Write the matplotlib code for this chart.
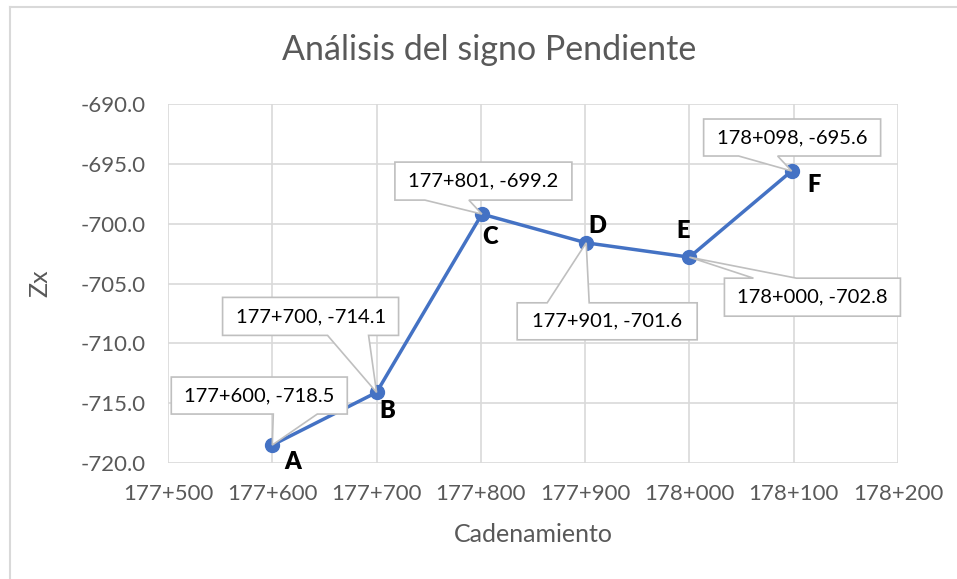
import matplotlib
matplotlib.use("Agg")
import matplotlib.pyplot as plt
import matplotlib.transforms as mtransforms
from matplotlib.patches import Polygon
from matplotlib.lines import Line2D

plt.rcParams['font.family'] = ['Lato', 'DejaVu Sans']

# estaciones (m) y cotas
cad = [177600, 177700, 177801, 177901, 178000, 178098]
zx = [-718.5, -714.1, -699.2, -701.6, -702.8, -695.6]
puntos = ['A', 'B', 'C', 'D', 'E', 'F']
x_ticks = [177500, 177600, 177700, 177800, 177900, 178000, 178100, 178200]
y_ticks = [-720, -715, -710, -705, -700, -695, -690]

# callouts, pixel offsets from each point (y up): box x0, x1, y0, y1, notch a, b, edge
cajas = [
    (-101, 75, 31, 68, 1, 45, 'bottom'),
    (-154, 22, 57, 95, -49, -8, 'bottom'),
    (-87, 90, 14, 52, -57, -13, 'bottom'),
    (-69, 111, -97, -60, -39, 3, 'top'),
    (35, 211, -59, -21, 64, 107, 'top'),
    (-88, 89, 15, 52, -53, -14, 'bottom'),
]
# letter offsets in pixels (y up)
letras_off = [(20, -17), (11, -19), (8, -23), (11, 17), (-6, 26), (22, -14)]


def fmt_cad(v):
    return f"{int(v // 1000)}+{int(round(v % 1000)):03d}"


fig = plt.figure(figsize=(9.57, 5.79), dpi=100)
ax = fig.add_axes([168 / 957, 1 - 463 / 579, 730 / 957, 359 / 579])

ax.plot(cad, zx, color='#4472C4', lw=2.5, marker='o', ms=10, zorder=3)

ax.set_xlim(177500, 178200)
ax.set_ylim(-720, -690)
ax.set_xticks(x_ticks)
ax.set_xticklabels([fmt_cad(v) for v in x_ticks])
ax.set_yticks(y_ticks)
ax.set_yticklabels([f"{v:.1f}" for v in y_ticks])
ax.tick_params(length=0, labelsize=16, labelcolor='#595959')
ax.tick_params(axis='y', pad=16)
ax.tick_params(axis='x', pad=15)
ax.grid(True, color='#d9d9d9', lw=1.2)
for s in ax.spines.values():
    s.set_visible(False)
ax.set_axisbelow(True)

ax.set_xlabel('Cadenamiento', fontsize=18, color='#595959', va='center')
ax.set_ylabel('Zx', fontsize=18, color='#595959', va='center')
ax.xaxis.set_label_coords(0.5, (463 - 535) / 359)
ax.yaxis.set_label_coords((40 - 168) / 730, 0.5)
fig.text(489 / 957, 1 - 50 / 579, 'Análisis del signo Pendiente', ha='center',
         va='center', fontsize=24.5, color='#595959')

for x, y, p, caja, lo in zip(cad, zx, puntos, cajas, letras_off):
    tr = mtransforms.Affine2D() + mtransforms.ScaledTranslation(x, y, ax.transData)
    x0, x1, y0, y1, a, b, edge = caja
    if edge == 'bottom':
        verts = [(x0, y1), (x1, y1), (x1, y0), (b, y0), (0, 0), (a, y0), (x0, y0)]
    else:
        verts = [(x0, y1), (a, y1), (0, 0), (b, y1), (x1, y1), (x1, y0), (x0, y0)]
    ax.add_patch(Polygon(verts, closed=True, transform=tr, facecolor='white',
                         edgecolor='#bfbfbf', lw=1.2, zorder=4, clip_on=False))
    ax.text((x0 + x1) / 2, (y0 + y1) / 2, f"{fmt_cad(x)}, {y:.1f}", transform=tr,
            ha='center', va='center', fontsize=14.5, color='black', zorder=5)
    ax.text(lo[0], lo[1], p, transform=tr, ha='center', va='center',
            fontsize=17, fontweight='heavy', color='black', zorder=5)

# chart frame
fig.add_artist(Line2D([9.5 / 957, 9.5 / 957], [0, 1 - 6.5 / 579], color='#d9d9d9', lw=1.5))
fig.add_artist(Line2D([9.5 / 957, 1], [1 - 6.5 / 579, 1 - 6.5 / 579], color='#d9d9d9', lw=1.5))

fig.savefig('out.png', dpi=100, facecolor='white')
